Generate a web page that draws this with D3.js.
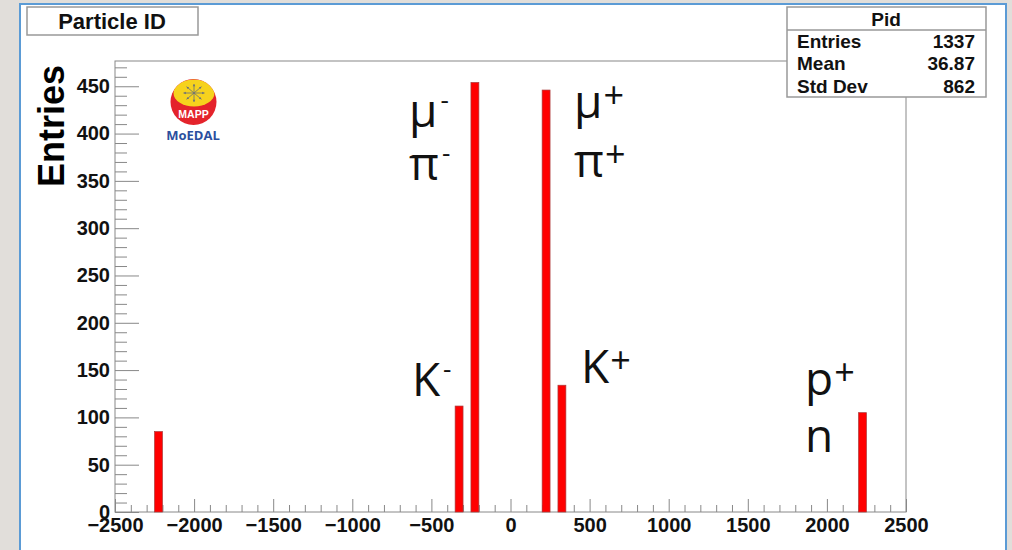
<!DOCTYPE html>
<html>
<head>
<meta charset="utf-8">
<script src="https://cdn.jsdelivr.net/npm/d3@7"></script>
<style>
  html, body { margin: 0; padding: 0; background: #e1deda; }
  svg { display: block; }
  .tick text { font-family: "Liberation Sans", Arial, Helvetica, sans-serif; font-weight: bold; fill: #111; }
</style>
</head>
<body>
<svg id="chart" width="1012" height="550"></svg>
<script>
// Histogram of reconstructed particle IDs (PDG codes), 50-wide bins
const binLow   = [-2250, -350, -250, 200, 300, 2200];
const binCount = [85, 112, 454, 446, 134, 105];
const binWidth = 50;

const xTicks = [-2500, -2000, -1500, -1000, -500, 0, 500, 1000, 1500, 2000, 2500];
const yTicks = [0, 50, 100, 150, 200, 250, 300, 350, 400, 450];

const statNames  = ["Entries", "Mean", "Std Dev"];
const statValues = ["1337", "36.87", "862"];

// particle names placed in data coordinates (PDG code, entries)
const labelText = [["μ", "-"], ["π", "-"], ["K", "-"], ["μ", "+"], ["π", "+"], ["K", "+"], ["p", "+"], ["n", ""]];
const labelX    = [-623, -623, -604, 420, 420, 465, 1881, 1881];
const labelY    = [407, 351, 122.6, 416.5, 354, 136, 123.7, 63.4];

const svg = d3.select("#chart");
const W = 1012, H = 550;

// canvas panel
svg.append("rect").attr("x", 0).attr("y", 0).attr("width", W).attr("height", H).attr("fill", "#e1deda");
svg.append("rect").attr("x", 20).attr("y", 4).attr("width", 986).attr("height", 600)
  .attr("fill", "#fff").attr("stroke", "#5b9bd5").attr("stroke-width", 2);

const frame = { left: 115, right: 906, top: 61, bottom: 512 };

const x = d3.scaleLinear().domain([-2500, 2500]).range([frame.left, frame.right]);
const y = d3.scaleLinear().domain([0, d3.max(binCount) * 1.05]).range([frame.bottom, frame.top]);

// frame
svg.append("rect")
  .attr("x", frame.left).attr("y", frame.top)
  .attr("width", frame.right - frame.left).attr("height", frame.bottom - frame.top)
  .attr("fill", "none").attr("stroke", "#888").attr("stroke-width", 1);

// y axis: minor ticks every 10, major every 50
const yMinor = d3.range(0, y.domain()[1], 10).filter(v => v % 50 !== 0);
svg.append("g").attr("transform", `translate(${frame.left},0)`)
  .call(d3.axisLeft(y).tickValues(yMinor).tickSizeInner(-12).tickSizeOuter(0).tickFormat(""))
  .call(g => g.select(".domain").remove())
  .call(g => g.selectAll("line").attr("stroke", "#888"));
svg.append("g").attr("transform", `translate(${frame.left},0)`)
  .call(d3.axisLeft(y).tickValues(yTicks).tickSizeInner(-24).tickSizeOuter(0).tickPadding(5).tickFormat(d3.format("d")))
  .call(g => g.select(".domain").remove())
  .call(g => g.selectAll("line").attr("stroke", "#888"))
  .call(g => g.selectAll("text").attr("font-size", 20));

// x axis: minor ticks every 100, major every 500
const xMinor = d3.range(-2500, 2501, 100).filter(v => v % 500 !== 0);
const minusFmt = v => (v < 0 ? "\u2212" + Math.abs(v) : String(v));
svg.append("g").attr("transform", `translate(0,${frame.bottom})`)
  .call(d3.axisBottom(x).tickValues(xMinor).tickSizeInner(-7).tickSizeOuter(0).tickFormat(""))
  .call(g => g.select(".domain").remove())
  .call(g => g.selectAll("line").attr("stroke", "#888"));
svg.append("g").attr("transform", `translate(0,${frame.bottom})`)
  .call(d3.axisBottom(x).tickValues(xTicks).tickSizeInner(-13).tickSizeOuter(0).tickPadding(6).tickFormat(minusFmt))
  .call(g => g.select(".domain").remove())
  .call(g => g.selectAll("line").attr("stroke", "#888"))
  .call(g => g.selectAll("text").attr("font-size", 20));

// bars
svg.append("g").selectAll("rect")
  .data(binLow.map((lo, i) => ({ lo, n: binCount[i] })))
  .join("rect")
  .attr("x", d => x(d.lo))
  .attr("y", d => y(d.n))
  .attr("width", d => x(d.lo + binWidth) - x(d.lo))
  .attr("height", d => y(0) - y(d.n))
  .attr("fill", "#ff0000")
  .attr("stroke", "#a83a3a")
  .attr("stroke-width", 0.7);

// axis title
svg.append("text")
  .attr("transform", "translate(64,65) rotate(-90)")
  .attr("text-anchor", "end")
  .attr("font-family", "Liberation Sans, Arial, sans-serif")
  .attr("font-weight", "bold").attr("font-size", 36).attr("fill", "#000")
  .text("Entries");

// title box
svg.append("rect").attr("x", 27).attr("y", 7).attr("width", 171).attr("height", 28)
  .attr("fill", "#fff").attr("stroke", "#999").attr("stroke-width", 1.5);
svg.append("text").attr("x", 112).attr("y", 29).attr("text-anchor", "middle")
  .attr("font-family", "Liberation Sans, Arial, sans-serif")
  .attr("font-weight", "bold").attr("font-size", 22).attr("fill", "#111")
  .text("Particle ID");

// statistics box
const stats = svg.append("g");
stats.append("rect").attr("x", 787).attr("y", 7).attr("width", 199).attr("height", 90)
  .attr("fill", "#fff").attr("stroke", "#999").attr("stroke-width", 1.5);
stats.append("line").attr("x1", 787).attr("x2", 986).attr("y1", 30).attr("y2", 30)
  .attr("stroke", "#999").attr("stroke-width", 1.5);
const statFont = g => g.attr("font-family", "Liberation Sans, Arial, sans-serif")
  .attr("font-weight", "bold").attr("font-size", 19).attr("fill", "#111");
stats.append("text").attr("x", 886).attr("y", 26).attr("text-anchor", "middle").call(statFont).text("Pid");
stats.selectAll("text.name").data(statNames).join("text").attr("class", "name")
  .attr("x", 797).attr("y", (d, i) => 48 + i * 22.4).call(statFont).text(d => d);
stats.selectAll("text.val").data(statValues).join("text").attr("class", "val")
  .attr("x", 975).attr("y", (d, i) => 48 + i * 22.4).attr("text-anchor", "end").call(statFont).text(d => d);

// particle labels
const lab = svg.append("g")
  .attr("font-family", "Open Sans, Noto Sans, sans-serif")
  .attr("fill", "#111");
labelText.forEach((t, i) => {
  const txt = lab.append("text")
    .attr("x", x(labelX[i]) - 3)
    .attr("y", y(labelY[i]))
    .attr("font-size", 46);
  txt.append("tspan").text(t[0]);
  if (t[1] === "-") {
    txt.append("tspan").attr("font-size", 26).attr("dx", 3).attr("dy", -18).text("-");
  } else if (t[1] === "+") {
    txt.append("tspan").attr("font-size", 36).attr("dx", 1).attr("dy", -10).text("+");
  }
});

// MAPP / MoEDAL logo
const logo = svg.append("g").attr("transform", "translate(193.5,102)");
logo.append("clipPath").attr("id", "logoClip").append("circle").attr("r", 23);
logo.append("circle").attr("r", 23).attr("fill", "#e4232b");
logo.append("ellipse").attr("cx", 0.5).attr("cy", -9).attr("rx", 20.5).attr("ry", 13.5)
  .attr("fill", "#f6d21d").attr("clip-path", "url(#logoClip)");
const arrows = logo.append("g").attr("transform", "translate(0.5,-9)")
  .attr("stroke", "#6a6f7a").attr("stroke-width", 0.8).attr("fill", "#6a6f7a");
d3.range(8).forEach(k => {
  const a = k * Math.PI / 4;
  const r = 10.5;
  const ex = Math.cos(a) * r, ey = Math.sin(a) * r * 0.85;
  arrows.append("line").attr("x1", 0).attr("y1", 0).attr("x2", ex).attr("y2", ey);
  const ang = Math.atan2(ey, ex);
  const hx1 = ex - 2.6 * Math.cos(ang - 0.5), hy1 = ey - 2.6 * Math.sin(ang - 0.5);
  const hx2 = ex - 2.6 * Math.cos(ang + 0.5), hy2 = ey - 2.6 * Math.sin(ang + 0.5);
  arrows.append("path").attr("d", `M${ex},${ey}L${hx1},${hy1}L${hx2},${hy2}Z`).attr("stroke", "none");
});
logo.append("text").attr("x", 0).attr("y", 16).attr("text-anchor", "middle")
  .attr("font-family", "Liberation Sans, Arial, sans-serif").attr("font-weight", "bold")
  .attr("font-size", 10.5).attr("fill", "#fff").text("MAPP");
svg.append("text").attr("x", 193).attr("y", 140).attr("text-anchor", "middle")
  .attr("font-family", "Open Sans, Liberation Sans, sans-serif").attr("font-weight", "bold")
  .attr("font-size", 13).attr("fill", "#2b4f9e").text("MoEDAL");
</script>
</body>
</html>
